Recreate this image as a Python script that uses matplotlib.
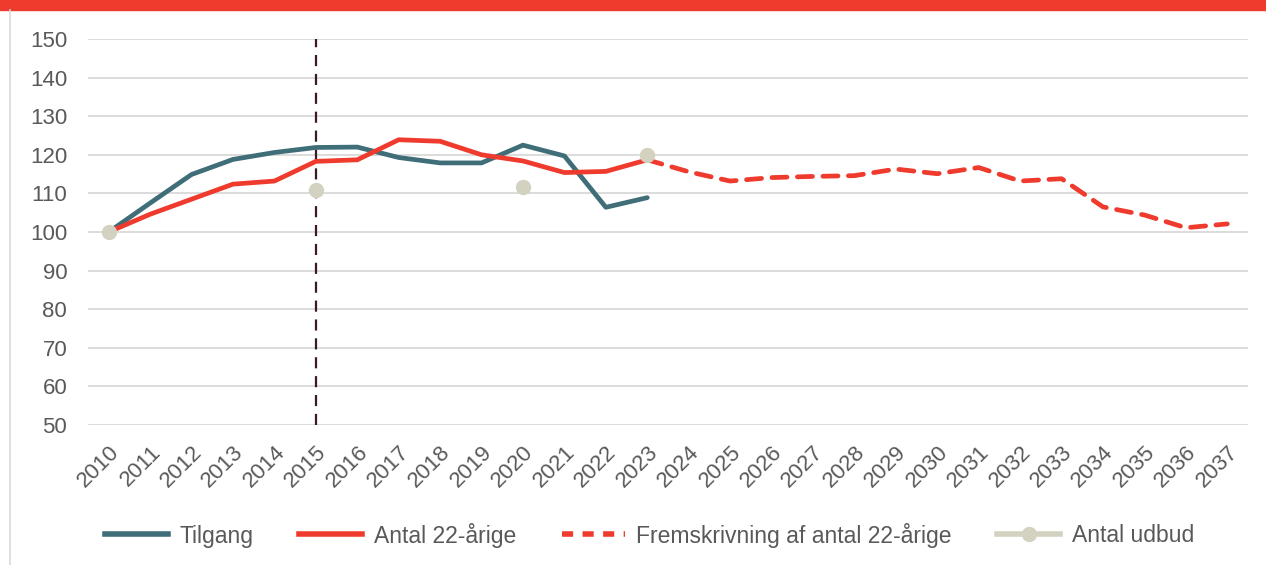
import numpy as np
import matplotlib.pyplot as plt
from matplotlib.lines import Line2D

plt.rcParams['font.family'] = ['Liberation Sans', 'DejaVu Sans']

years = list(range(2010, 2038))
tilgang = [100, 107.5, 114.9, 118.8, 120.6, 121.9, 122.0, 119.3, 117.9, 117.9,
           122.5, 119.7, 106.4, 108.9]
antal22 = [100, 104.6, 108.5, 112.4, 113.2, 118.3, 118.7, 123.9, 123.5, 120.0,
           118.4, 115.4, 115.7, 118.7]
frem_years = list(range(2023, 2038))
fremskrivning = [118.7, 115.6, 113.2, 114.1, 114.4, 114.6, 116.3, 115.1, 116.7,
                 113.2, 113.8, 106.5, 104.4, 101.1, 102.1]
udbud_years = [2010, 2015, 2020, 2023]
udbud = [100, 111.0, 111.6, 120.0]

TEAL = '#3F6E78'
RED = '#EF3B2D'
DOT = '#D3D1C0'
GRID = '#D9D9D9'
TXT = '#595959'

fig = plt.figure(figsize=(12.66, 5.65), dpi=100)
ax = fig.add_axes([88 / 1266, 1 - 425 / 565, 1160 / 1266, 386 / 565])

idx = {y: i for i, y in enumerate(years)}
ax.plot([idx[y] for y in years[:len(tilgang)]], tilgang, color=TEAL, lw=3.4,
        solid_capstyle='round', zorder=3)
ax.plot([idx[y] for y in years[:len(antal22)]], antal22, color=RED, lw=3.4,
        solid_capstyle='round', zorder=4)
ax.plot([idx[y] for y in frem_years], fremskrivning, color=RED, lw=3.4,
        dashes=(3.2, 2.2), dash_capstyle='round', zorder=4)
ax.plot([idx[y] for y in udbud_years], udbud, 'o', color=DOT, ms=10, zorder=5)

ax.axvline(idx[2015], color='#3A1A26', lw=1.6, dashes=(5, 3.5), zorder=2)

ax.set_xlim(-0.5, len(years) - 0.5)
ax.set_ylim(50, 150)
ax.set_yticks(range(50, 151, 10))
ax.set_xticks(range(len(years)))
ax.set_xticklabels([str(y) for y in years], rotation=45, ha='right',
                   va='top', rotation_mode='anchor')
ax.yaxis.grid(True, color=GRID, lw=1.3)
ax.set_axisbelow(True)
for s in ax.spines.values():
    s.set_visible(False)
ax.tick_params(axis='y', length=0, labelsize=16, colors=TXT, pad=15)
ax.tick_params(axis='x', length=0, labelsize=16, colors=TXT, pad=12)

handles = [
    Line2D([0], [0], color=TEAL, lw=4),
    Line2D([0], [0], color=RED, lw=4),
    Line2D([0], [0], color=RED, lw=4, dashes=(2.0, 1.7)),
    Line2D([0], [0], color=DOT, lw=4, marker='o', ms=10),
]
labels = ['Tilgang', 'Antal 22-årige', 'Fremskrivning af antal 22-årige', 'Antal udbud']
fig.legend(handles, labels, loc='center', bbox_to_anchor=(0.513, 1 - 535 / 565),
           ncol=4, frameon=False, fontsize=16.5, handlelength=2.75,
           handletextpad=0.5, columnspacing=2.0, labelcolor=TXT)

# red band on top and thin frame line at left
fig.patches.append(plt.Rectangle((0, 1 - 10 / 565), 1, 10 / 565,
                                 transform=fig.transFigure, color=RED))
fig.lines.append(Line2D([10 / 1266, 10 / 1266], [0, 1 - 10 / 565],
                        transform=fig.transFigure, color='#D9D9D9', lw=1.2))

fig.savefig('out.png', dpi=100)
